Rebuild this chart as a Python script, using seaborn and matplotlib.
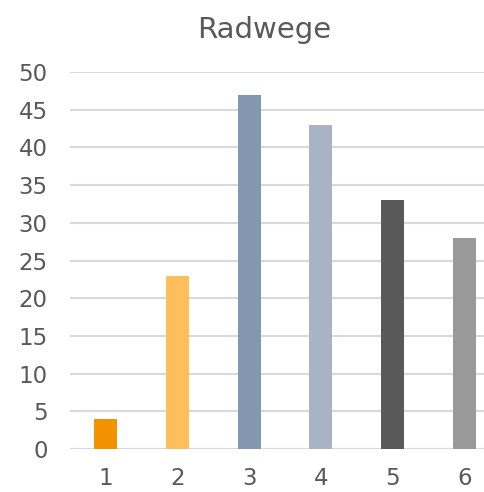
import matplotlib
matplotlib.use("Agg")
import matplotlib.pyplot as plt
import seaborn as sns
import pandas as pd

# Daten
kategorien = ["1", "2", "3", "4", "5", "6"]
werte = [4, 23, 47, 43, 33, 28]
farben = ["#F39200", "#FFBE5C", "#8497B0", "#A8B4C6", "#595959", "#999999"]
y_ticks = [0, 5, 10, 15, 20, 25, 30, 35, 40, 45, 50]

df = pd.DataFrame({"kategorie": kategorien, "wert": werte})

sns.set_style("white")
plt.rcParams["font.family"] = ["DejaVu Sans"]

fig = plt.figure(figsize=(4.85, 4.92), dpi=100)
ax = fig.add_axes([70 / 485, 1 - 449 / 492, 1 - 70 / 485, (449 - 72) / 492])

sns.barplot(data=df, x="kategorie", y="wert", hue="kategorie", palette=farben,
            width=0.32, legend=False, saturation=1, linewidth=0, ax=ax)

ax.set_xlim(-0.5, 5.29)
ax.set_ylim(0, 50)
ax.set_yticks(y_ticks)
ax.yaxis.grid(True, color="#D9D9D9", linewidth=1.5)
ax.set_axisbelow(True)
for s in ax.spines.values():
    s.set_visible(False)
ax.axhline(0, color="#D9D9D9", linewidth=1.5, zorder=0)
ax.tick_params(axis="both", length=0, labelsize=16.5, labelcolor="#595959")
ax.tick_params(axis="y", pad=16)
ax.tick_params(axis="x", pad=13)
ax.set_xlabel("")
ax.set_ylabel("")

fig.text(264 / 485, 1 - 38 / 492, "Radwege", ha="center", va="baseline",
         fontsize=21, color="#595959")

fig.savefig("out.png", dpi=100)
